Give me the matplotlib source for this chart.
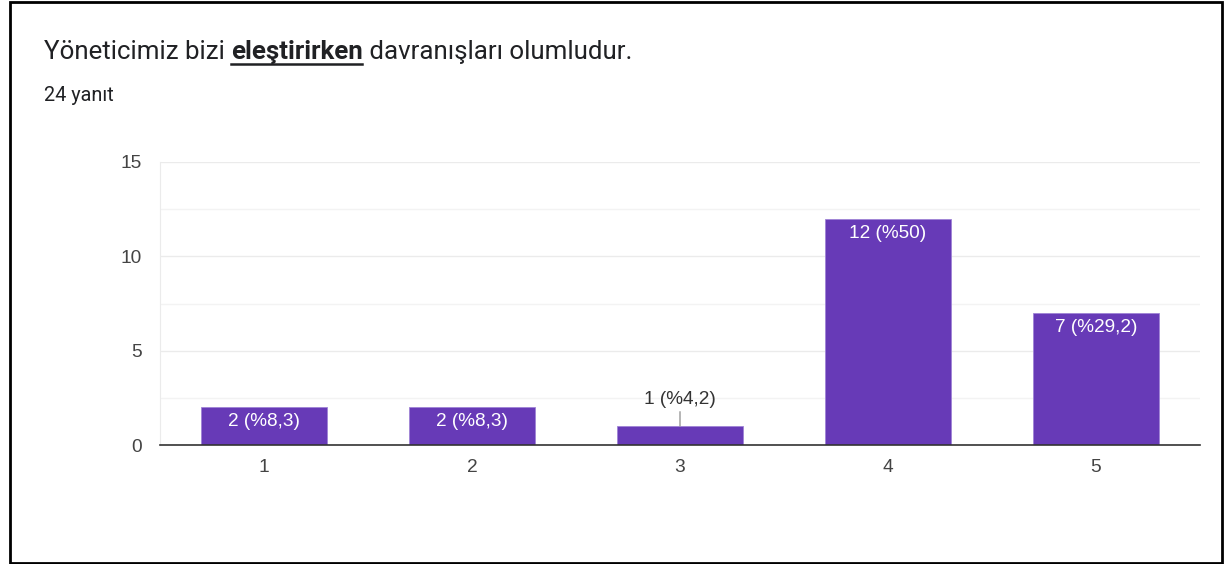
import numpy as np
import matplotlib
matplotlib.use('Agg')
import matplotlib.pyplot as plt
from matplotlib.lines import Line2D
from matplotlib.patches import Rectangle

categories = ["1", "2", "3", "4", "5"]
counts = [2, 2, 1, 12, 7]
labels = ["2 (%8,3)", "2 (%8,3)", "1 (%4,2)", "12 (%50)", "7 (%29,2)"]
title_parts = ["Yöneticimiz bizi ", "eleştirirken", " davranışları olumludur."]
subtitle = "24 yanıt"

W, H = 1231, 564
fig = plt.figure(figsize=(W / 100, H / 100), dpi=100)

# black frame around the card
fig.patches.append(Rectangle((9.5 / W, 1.5 / H), (1221.5 - 9.5) / W, (562 - 1.5) / H,
                             transform=fig.transFigure, fill=False, lw=2, ec='black'))

# title with a bold + underlined word in the middle
renderer = fig.canvas.get_renderer()
x = 44 / W
y = 1 - 59 / H
for i, part in enumerate(title_parts):
    t = fig.text(x, y, part, fontsize=18.6, family='Roboto', color='#202124',
                 fontweight='bold' if i == 1 else 'normal', va='baseline')
    bb = t.get_window_extent(renderer)
    if i == 1:
        fig.lines.append(Line2D([bb.x0 / W, (bb.x1 - 1) / W], [(y * H - 5) / H] * 2,
                                transform=fig.transFigure, color='#202124', lw=1.8))
    x = bb.x1 / W
fig.text(44 / W, 1 - 101 / H, subtitle, fontsize=14.3, family='Roboto', color='#202124', va='baseline')

ax = fig.add_axes([160 / W, 1 - 445 / H, (1200 - 160) / W, (445 - 162) / H])
pos = np.arange(1, len(categories) + 1)
ax.bar(pos, counts, width=0.61, color='#673ab7', edgecolor='#9f84d6', lw=0.6, zorder=3)
ax.set_xlim(0.5, 5.5)
ax.set_ylim(0, 15)
ax.set_yticks([0, 5, 10, 15])
ax.set_yticks([2.5, 7.5, 12.5], minor=True)
ax.set_xticks(pos)
ax.set_xticklabels(categories)
ax.grid(axis='y', which='major', color='#ebebeb', lw=1, zorder=0)
ax.grid(axis='y', which='minor', color='#f3f3f3', lw=1, zorder=0)
for s in ['top', 'right']:
    ax.spines[s].set_visible(False)
ax.spines['left'].set_color('#ebebeb')
ax.spines['bottom'].set_color('#333333')
ax.spines['bottom'].set_linewidth(1.2)
ax.spines['bottom'].set_zorder(4)
ax.tick_params(axis='both', which='both', length=0, labelsize=13.8, labelcolor='#444444')
ax.tick_params(axis='x', pad=10)
ax.tick_params(axis='y', pad=13)
for lab in ax.get_xticklabels() + ax.get_yticklabels():
    lab.set_family('Liberation Sans')

for p, c, lab in zip(pos, counts, labels):
    if c >= 2:
        ax.annotate(lab, (p, c), xytext=(0, -10.5), textcoords='offset points',
                    ha='center', va='center', color='white', fontsize=13.7,
                    family='Liberation Sans', zorder=5)
    else:
        ax.annotate(lab, (p, c), xytext=(0, 19.5), textcoords='offset points',
                    ha='center', va='center', color='#333333', fontsize=13.7,
                    family='Liberation Sans', zorder=5,
                    arrowprops=dict(arrowstyle='-', color='#999999', lw=1,
                                    shrinkA=1, shrinkB=0))

fig.savefig('out.png', dpi=100, facecolor='white')
